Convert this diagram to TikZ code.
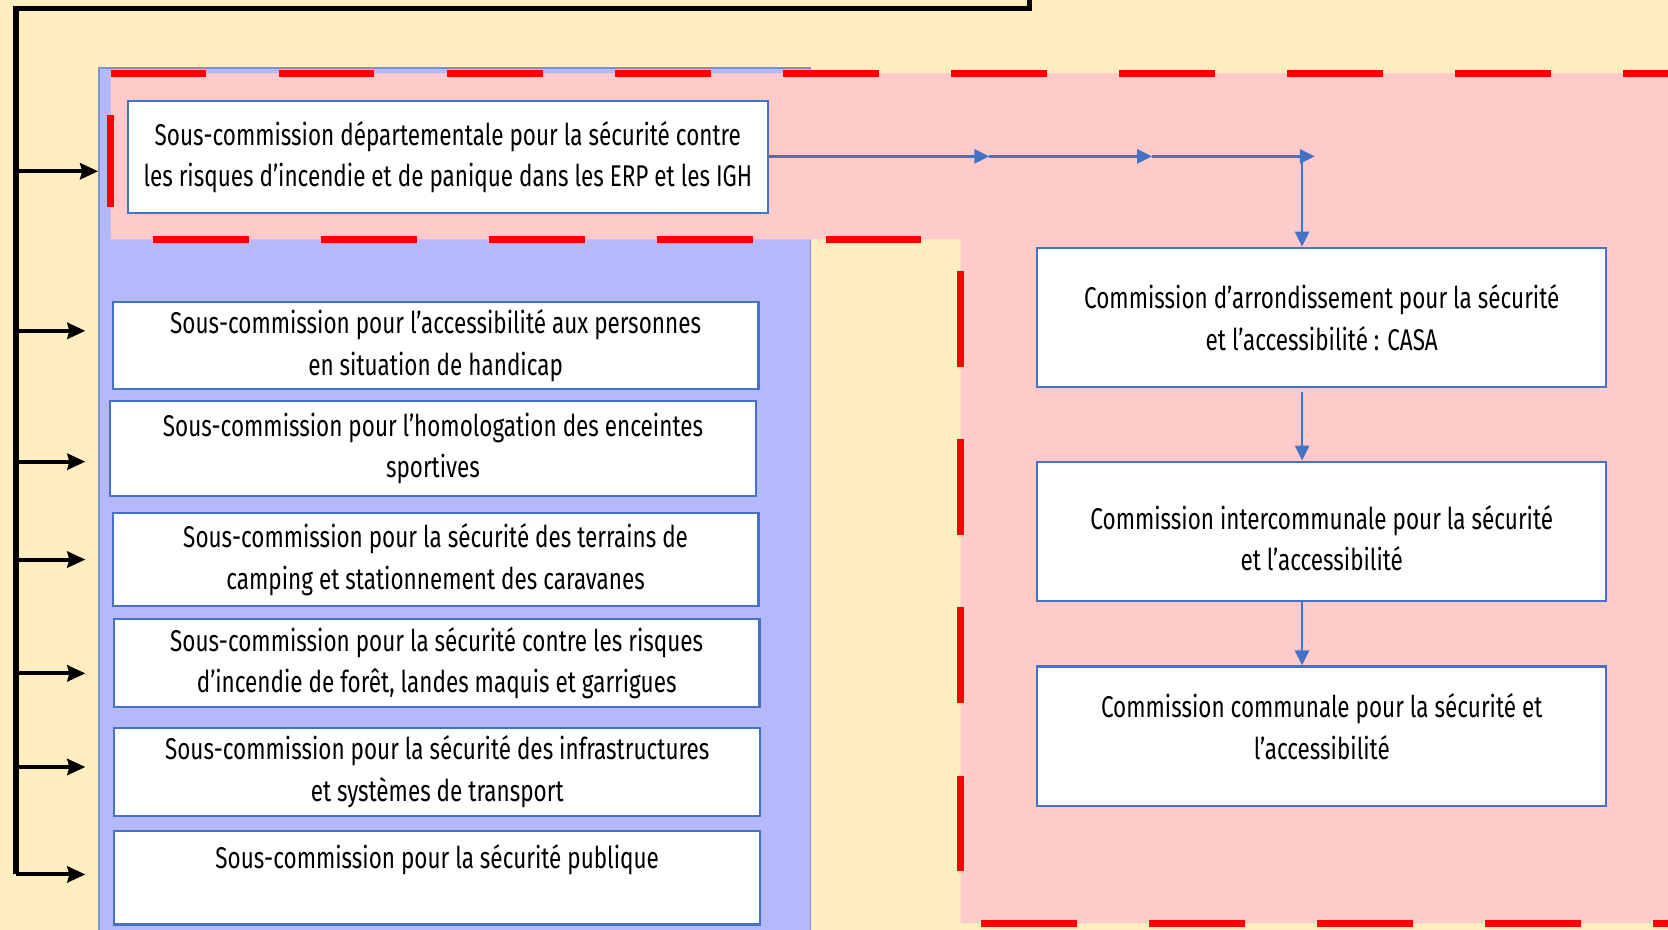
\documentclass[tikz,border=0pt]{standalone}
\usepackage{fontspec}
\setmainfont{Fira Sans}[FakeStretch=0.75]
\usetikzlibrary{arrows.meta,positioning,calc}
\definecolor{creambg}{HTML}{FFEEBF}
\definecolor{panelblue}{HTML}{B5B8FA}
\definecolor{panelline}{HTML}{7F8FD6}
\definecolor{bandpink}{HTML}{FFCACA}
\definecolor{dashred}{HTML}{FF0000}
\definecolor{boxblue}{HTML}{4472C4}
\tikzset{
    commission/.style={
        draw=boxblue,
        fill=white,
        line width=1.1pt,
        inner sep=0pt,
        minimum width=284.6pt,
        minimum height=69.7pt,
        align=center,
        font=\fontsize{15}{20.7}\selectfont
    },
    subcommission/.style={
        commission,
        minimum width=322.9pt
    },
    flowarrow/.style={
        -{Triangle[length=7.5pt,width=7pt]},
        draw=boxblue,
        line width=1.4pt
    },
    spine/.style={
        draw=black,
        line width=2.6pt
    },
    spinearrow/.style={
        -{Stealth[length=9pt,width=8pt,inset=1pt]},
        draw=black,
        line width=2pt
    },
    redborder/.style={
        draw=dashred,
        line width=3.2pt,
        dash pattern=on 47.87pt off 36.17pt
    }
}

\begin{document}
\begin{tikzpicture}[x=0.5319pt,y=-0.5319pt]
    \clip (0,0) rectangle (1568,874);
    \fill[creambg] (0,0) rectangle (1568,874);

    % panel of the sub-commissions
    \node[draw=panelline, fill=panelblue, line width=0.8pt, inner sep=0pt,
        minimum width=355.8pt, minimum height=440.4pt] (panel) at (427.5,478) {};

    % pink area with its red dashed border
    \fill[bandpink] (104,69) -- (1600,69) -- (1600,868) -- (903,868)
        -- (903,225) -- (104,225) -- cycle;
    \draw[redborder] (104,69) -- (1600,69);
    \draw[redborder, dash pattern=on 46.28pt off 100pt, dash phase=130.32pt] (104,225) -- (104,69);
    \draw[redborder, dash phase=62.76pt] (104,225) -- (903,225);
    \draw[redborder, dash phase=68.08pt] (903,225) -- (903,868);
    \draw[redborder, dash phase=73.93pt] (903,868) -- (1600,868);

    \node[commission, minimum width=320.2pt, minimum height=55.9pt] (sdis) at (421,147.5)
        {Sous-commission départementale pour la sécurité contre\\les risques d’incendie et de panique dans les ERP et les IGH};
    \node[commission] (casa) at (1242.5,298.5)
        {Commission d’arrondissement pour la sécurité\\et l’accessibilité : CASA};
    \node[commission] (inter) at (1242.5,499.5)
        {\rule{0pt}{19pt}Commission intercommunale pour la sécurité\\et l’accessibilité};
    \node[commission] (communale) at (1242.5,692)
        {Commission communale pour la sécurité et\\l’accessibilité\rule[-9.5pt]{0pt}{0pt}};

    \node[subcommission, minimum height=43.6pt] (handicap) at (409.5,325)
        {Sous-commission pour l’accessibilité aux personnes\\en situation de handicap};
    \node[subcommission, minimum height=47.3pt] (sport) at (407,421.5)
        {Sous-commission pour l’homologation des enceintes\\sportives};
    \node[subcommission, minimum height=46.8pt] (camping) at (409.5,526)
        {Sous-commission pour la sécurité des terrains de\\camping et stationnement des caravanes};
    \node[subcommission, minimum height=44.1pt] (foret) at (410.5,623.5)
        {Sous-commission pour la sécurité contre les risques\\d’incendie de forêt, landes maquis et garrigues};
    \node[subcommission, minimum height=44.1pt] (transport) at (411,725.5)
        {Sous-commission pour la sécurité des infrastructures\\et systèmes de transport};
    \node[subcommission, minimum height=46.8pt] (publique) at (411,825)
        {Sous-commission pour la sécurité publique\\\mbox{}};

    % chain of the commissions
    \coordinate (hop1) at (930,147);
    \coordinate (hop2) at (1083,147);
    \coordinate (hop3) at (1236,147);
    \coordinate (turn) at (1224,147);
    \draw[flowarrow] (sdis.east |- hop1) -- (hop1);
    \draw[flowarrow] (hop1) -- (hop2);
    \draw[flowarrow] (hop2) -- (hop3);
    \draw[flowarrow] (turn) -- (turn |- casa.north);
    \draw[flowarrow, shorten <=2pt] (turn |- casa.south) -- (turn |- inter.north);
    \draw[flowarrow] (turn |- inter.south) -- (turn |- communale.north);

    % black spine on the left
    \coordinate (spinetop) at (968,-6);
    \coordinate (spinecorner) at (15,8);
    \coordinate (leg1) at (15,161);
    \coordinate (leg2) at (15,311);
    \coordinate (leg3) at (15,434);
    \coordinate (leg4) at (15,526);
    \coordinate (leg5) at (15,633);
    \coordinate (leg6) at (15,721);
    \coordinate (leg7) at (15,822);
    \draw[spine] (spinetop) |- (spinecorner) -- (leg7);
    \draw[spinearrow] (leg1) -- (leg1 -| panel.west);
    \foreach \leg in {2,...,7}
        \draw[spinearrow, shorten >=6.4pt] (leg\leg) -- (leg\leg -| panel.west);
\end{tikzpicture}
\end{document}
